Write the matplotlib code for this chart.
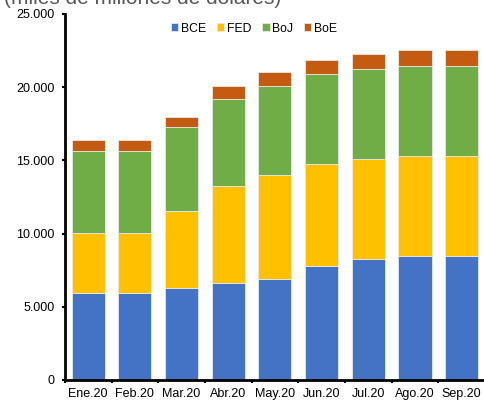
import matplotlib.pyplot as plt
import numpy as np
from matplotlib.ticker import FuncFormatter, MultipleLocator

plt.rcParams['font.family'] = ['Liberation Sans', 'DejaVu Sans']

# DATA
meses = ['Ene.20', 'Feb.20', 'Mar.20', 'Abr.20', 'May.20', 'Jun.20', 'Jul.20', 'Ago.20', 'Sep.20']
bce = [5910, 5910, 6300, 6640, 6920, 7780, 8270, 8460, 8460]
fed = [4140, 4140, 5230, 6590, 7050, 6950, 6830, 6860, 6860]
boj = [5570, 5610, 5770, 5980, 6140, 6140, 6110, 6150, 6150]
boe = [750, 750, 690, 890, 910, 1000, 1070, 1080, 1080]

series = [('BCE', bce, '#4472c4'), ('FED', fed, '#ffc000'),
          ('BoJ', boj, '#70ad47'), ('BoE', boe, '#c55a11')]

fig = plt.figure(figsize=(4.84, 4.0), dpi=100)
ax = fig.add_axes([0.134, 0.05, 0.868, 0.915])

x = np.arange(len(meses))
bottom = np.zeros(len(meses))
for name, vals, col in series:
    ax.bar(x, vals, 0.71, bottom=bottom, color=col, edgecolor='#e8e8e8',
           linewidth=0.6, label=name)
    bottom += np.array(vals)

ax.set_xlim(-0.5, len(meses) - 0.5)
ax.set_ylim(0, 25000)
ax.yaxis.set_major_locator(MultipleLocator(5000))
ax.yaxis.set_major_formatter(FuncFormatter(lambda v, p: '{:,.0f}'.format(v).replace(',', '.')))
ax.set_xticks(x)
ax.set_xticklabels(meses)
ax.set_xticks(np.arange(len(meses) + 1) - 0.5, minor=True)
ax.tick_params(axis='x', which='major', length=0, labelsize=9, pad=6)
ax.tick_params(axis='x', which='minor', length=2.5, width=1.5, direction='out')
ax.tick_params(axis='y', length=2.5, width=1.5, labelsize=9, pad=5)

for s in ['top', 'right']:
    ax.spines[s].set_visible(False)
for s in ['left', 'bottom']:
    ax.spines[s].set_linewidth(2)
    ax.spines[s].set_color('black')

ax.legend(loc='center', bbox_to_anchor=(0.45, 0.96), ncol=4, frameon=False,
          fontsize=8.8, handlelength=0.6, handleheight=0.6, handletextpad=0.2,
          columnspacing=0.9, borderaxespad=0.0)

fig.text(0.008, 0.99, '(miles de millones de dólares)', fontsize=15, color='#595959',
         ha='left', va='baseline')

plt.savefig('out.png', dpi=100)
